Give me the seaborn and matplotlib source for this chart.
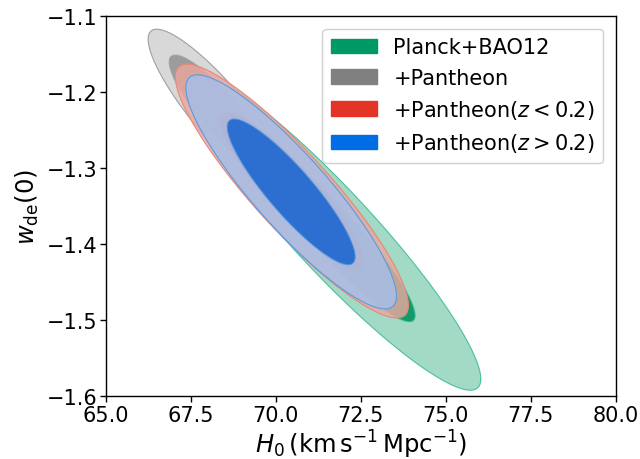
import numpy as np
import pandas as pd
import matplotlib
matplotlib.use("Agg")
import matplotlib.pyplot as plt
import seaborn as sns
from matplotlib.patches import Patch

# series (centre, half-extents of the 68% / 95% contours, correlation)
labels = ['Planck+BAO12', '+Pantheon', r'+Pantheon$(z<0.2)$', r'+Pantheon$(z>0.2)$']
h0_mean = [71.65, 68.35, 70.47, 70.45]
w_mean = [-1.382, -1.227, -1.330, -1.331]
h0_half68 = [2.45, 1.49, 2.10, 1.885]
w_half68 = [0.120, 0.076, 0.103, 0.096]
h0_half95 = [4.38, 2.11, 3.43, 3.10]
w_half95 = [0.210, 0.110, 0.167, 0.154]
rho = [-0.93, -0.88, -0.90, -0.89]

base_colors = ['#009966', '#808080', '#e33425', '#006ce6']
dark_colors = ['#009660', '#969696', '#d88d86', '#1e68d0']
light_colors = ['#8ed2b9', '#d0d0d0', '#eaa89f', '#a5bfea']
edge_colors = ['#4cc0a0', '#a0a0a0', '#e8867a', '#5c9ae0']

x_ticks = [65.0, 67.5, 70.0, 72.5, 75.0, 77.5, 80.0]
y_ticks = [-1.6, -1.5, -1.4, -1.3, -1.2, -1.1]


def contour_path(cx, cy, hx, hy, r):
    # ellipse with half-extents hx, hy and correlation r
    cov = np.array([[hx * hx, r * hx * hy], [r * hx * hy, hy * hy]])
    L = np.linalg.cholesky(cov)
    t = np.linspace(0, 2 * np.pi, 300)
    pts = L @ np.vstack([np.cos(t), np.sin(t)])
    return pd.DataFrame({'x': cx + pts[0], 'y': cy + pts[1]})


sns.set_theme(style='ticks')
plt.rcParams['font.family'] = ['DejaVu Sans']
plt.rcParams['axes.edgecolor'] = 'black'
plt.rcParams['axes.labelcolor'] = 'black'
plt.rcParams['text.color'] = 'black'
plt.rcParams['xtick.color'] = 'black'
plt.rcParams['ytick.color'] = 'black'
plt.rcParams['axes.linewidth'] = 1.0

fig = plt.figure(figsize=(6.4, 4.6), dpi=100)
ax = fig.add_axes([0.1656, 0.1363, 0.7964, 0.8261])

for i in range(len(labels)):
    outer = contour_path(h0_mean[i], w_mean[i], h0_half95[i], w_half95[i], rho[i])
    inner = contour_path(h0_mean[i], w_mean[i], h0_half68[i], w_half68[i], rho[i])
    ax.fill(outer['x'], outer['y'], color=light_colors[i], alpha=0.82, lw=0, zorder=2 + i)
    sns.lineplot(data=outer, x='x', y='y', sort=False, estimator=None,
                 color=edge_colors[i], lw=0.8, ax=ax, zorder=2 + i)
    ax.fill(inner['x'], inner['y'], color=dark_colors[i], alpha=0.9, lw=0, zorder=2 + i)
    sns.lineplot(data=inner, x='x', y='y', sort=False, estimator=None,
                 color=edge_colors[i], lw=0.8, alpha=0.8, ax=ax, zorder=2 + i)

ax.set_xlim(65, 80)
ax.set_ylim(-1.6, -1.1)
ax.set_xticks(x_ticks)
ax.set_xticklabels([f'{v:.1f}' for v in x_ticks])
ax.set_yticks(y_ticks)
ax.set_yticklabels([f'{v:.1f}'.replace('-', '\u2212') for v in y_ticks])
ax.tick_params(labelsize=15, direction='out', length=4, width=1, pad=2)
ax.set_xlabel(r'$H_0\,(\mathrm{km\,s^{-1}\,Mpc^{-1}})$', fontsize=17.5, labelpad=2)
ax.set_ylabel(r'$w_{\rm de}(0)$', fontsize=17.5, labelpad=4)

handles = [Patch(facecolor=c, edgecolor=c) for c in base_colors]
ax.legend(handles, labels, loc='upper right', fontsize=15, handlelength=2.2,
          frameon=True, framealpha=1, edgecolor='#d0d0d0', borderaxespad=0.6)

fig.savefig('out.png', dpi=100)
